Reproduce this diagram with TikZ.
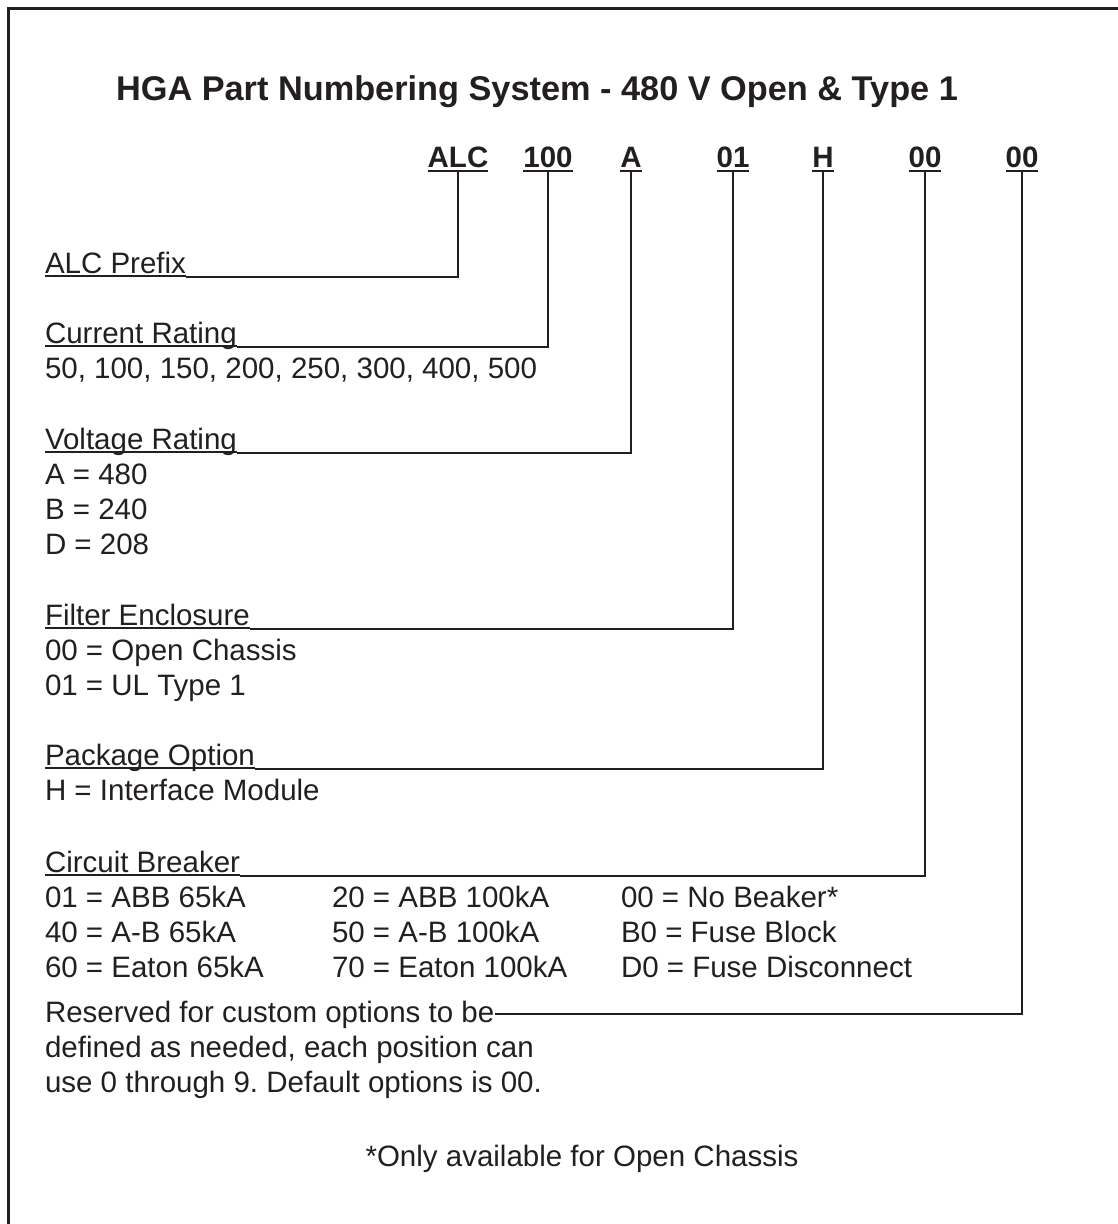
\documentclass[tikz,border=0pt]{standalone}
\usepackage{fontspec}
\setmainfont{Liberation Sans}
\definecolor{ink}{HTML}{231F20}
\frenchspacing
\begin{document}
\begin{tikzpicture}[x=1pt,y=-1pt,
  every node/.style={inner sep=0pt,outer sep=0pt,text=ink},
  txt/.style={font=\fontsize{29.5}{35}\selectfont, anchor=base west},
  titlestyle/.style={font=\fontsize{34.3}{40}\selectfont\bfseries, anchor=base},
  codestyle/.style={font=\fontsize{29.5}{35}\selectfont\bfseries, anchor=base},
  conn/.style={draw=ink, line width=2.6pt},
  uline/.style={draw=ink, line width=1.8pt},
  frame/.style={draw=ink, line width=3pt}]
\useasboundingbox (0,0) rectangle (1117,1224);
\coordinate (fbl) at (8,1240);
\coordinate (ftl) at (8,8);
\coordinate (ftr) at (1140,8);
\draw[frame] (fbl) -- (ftl) -- (ftr);

\node[titlestyle] (title) at (537,100) {HGA Part Numbering System - 480 V Open \& Type 1};

% code row
\node[codestyle] (c1) at (458,167) {ALC};
\node[codestyle] (c2) at (548,167) {100};
\node[codestyle] (c3) at (631,167) {A};
\node[codestyle] (c4) at (733,167) {01};
\node[codestyle] (c5) at (823,167) {H};
\node[codestyle] (c6) at (925,167) {00};
\node[codestyle] (c7) at (1022,167) {00};
\foreach \c in {c1,c2,c3,c4,c5,c6,c7}
  \draw[conn] ([yshift=-4pt]\c.base west) -- ([yshift=-4pt]\c.base east);

% headings
\node[txt] (h1) at (45,273) {ALC Prefix};
\node[txt] (h2) at (45,343) {Current Rating};
\node[txt] (h3) at (45,449) {Voltage Rating};
\node[txt] (h4) at (45,625) {Filter Enclosure};
\node[txt] (h5) at (45,765) {Package Option};
\node[txt] (h6) at (45,872) {Circuit Breaker};
\foreach \h in {h1,h2,h3,h4,h5,h6}
  \draw[uline] ([yshift=-3pt]\h.base west) -- ([yshift=-3pt]\h.base east);

% values
\node[txt] (v2) at (45,378) {50, 100, 150, 200, 250, 300, 400, 500};
\node[txt] (v3a) at (45,484) {A = 480};
\node[txt] (v3b) at (45,519) {B = 240};
\node[txt] (v3c) at (45,554) {D = 208};
\node[txt] (v4a) at (45,660) {00 = Open Chassis};
\node[txt] (v4b) at (45,695) {01 = UL Type 1};
\node[txt] (v5a) at (45,800) {H = Interface Module};
\node[txt] (b11) at (45,907) {01 = ABB 65kA};
\node[txt] (b12) at (332,907) {20 = ABB 100kA};
\node[txt] (b13) at (621,907) {00 = No Beaker*};
\node[txt] (b21) at (45,942) {40 = A-B 65kA};
\node[txt] (b22) at (332,942) {50 = A-B 100kA};
\node[txt] (b23) at (621,942) {B0 = Fuse Block};
\node[txt] (b31) at (45,977) {60 = Eaton 65kA};
\node[txt] (b32) at (332,977) {70 = Eaton 100kA};
\node[txt] (b33) at (621,977) {D0 = Fuse Disconnect};
\node[txt] (r1) at (45,1022) {Reserved for custom options to be};
\node[txt] (r2) at (45,1057) {defined as needed, each position can};
\node[txt] (r3) at (45,1092) {use 0 through 9. Default options is 00.};
\node[txt, anchor=base] (fn) at (582,1166) {*Only available for Open Chassis};

% connectors
\draw[conn] ([yshift=-4pt]c1.base) |- ([yshift=-4pt]h1.base east);
\draw[conn] ([yshift=-4pt]c2.base) |- ([yshift=-4pt]h2.base east);
\draw[conn] ([yshift=-4pt]c3.base) |- ([yshift=-4pt]h3.base east);
\draw[conn] ([yshift=-4pt]c4.base) |- ([yshift=-4pt]h4.base east);
\draw[conn] ([yshift=-4pt]c5.base) |- ([yshift=-4pt]h5.base east);
\draw[conn] ([yshift=-4pt]c6.base) |- ([yshift=-4pt]h6.base east);
\draw[conn] ([yshift=-4pt]c7.base) |- ([xshift=1pt,yshift=8pt]r1.base east);
\end{tikzpicture}
\end{document}
